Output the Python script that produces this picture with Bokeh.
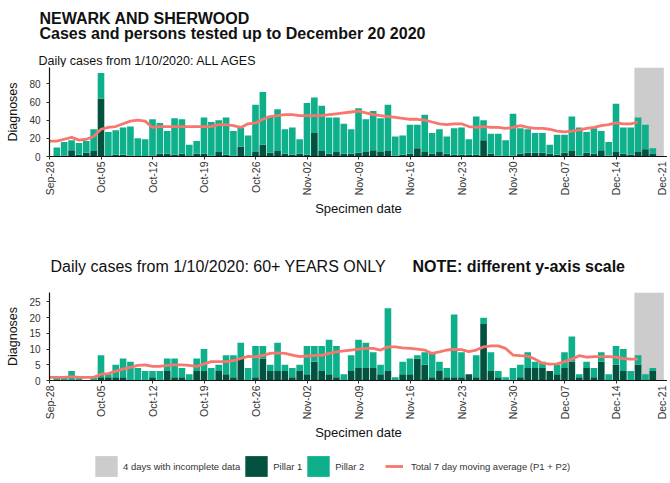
import math
import pandas as pd
from bokeh.plotting import figure
from bokeh.models import (Range1d, FixedTicker, DatetimeTickFormatter, BoxAnnotation,
                          Label, Legend, LegendItem, ColumnDataSource)
from bokeh.layouts import column
from bokeh.embed import file_html
from bokeh.resources import INLINE

# ---------------- data ----------------
bar_dates = pd.date_range("2020-09-29", "2020-12-20", freq="D")   # specimen dates of bars
avg_dates = pd.date_range("2020-09-28", "2020-12-17", freq="D")   # moving average dates
tick_dates = pd.date_range("2020-09-28", "2020-12-21", freq="7D")
incomplete_days = 4

# ALL AGES : total cases (P1 + P2) and Pillar 1
all_total = [10, 16,
             18, 15, 17, 30, 92, 27, 29, 32, 33, 20, 19, 41, 37, 28, 42, 41, 13, 17, 43, 38,
             40, 43, 28, 32, 23, 57, 71, 45, 52, 30, 32,
             19, 59, 65, 56, 43, 43, 36, 30, 53, 41, 50, 42, 57, 22, 23, 35, 35, 46, 26, 30,
             22, 31, 32, 19, 44, 40, 25, 25, 18, 47,
             31, 30, 26, 26, 13, 24, 24, 44, 32, 27, 31, 28, 16, 58, 32, 32, 43, 35, 9, 0]
all_p1 = [0, 1,
          7, 2, 4, 6, 64, 0, 2, 2, 1, 0, 0, 1, 3, 3, 2, 3, 0, 3, 3, 1,
          5, 2, 1, 11, 0, 5, 13, 4, 6, 3, 2,
          3, 2, 26, 6, 3, 5, 3, 3, 4, 5, 7, 5, 6, 1, 2, 3, 9, 5, 3, 5,
          3, 2, 2, 2, 2, 18, 3, 1, 0, 1,
          3, 4, 4, 4, 3, 2, 4, 6, 1, 4, 3, 7, 1, 5, 3, 2, 5, 8, 3, 0]
all_avg = [17, 17, 19,
           21, 18, 19, 22, 30, 32, 33, 36, 39, 40, 39, 32, 33, 33, 33, 33, 33, 33, 33, 33,
           35, 35, 34, 32, 36, 37, 41, 44, 45, 46, 46,
           45, 45, 45, 45, 46, 47, 48, 49, 50, 48, 46, 45, 44, 43, 42, 41, 41, 40, 38, 36,
           35, 36, 36, 33, 32, 33, 32, 32, 31, 32,
           34, 32, 31, 31, 30, 28, 27, 28, 29, 31, 32, 34, 35, 37, 36, 36, 38]

# 60+ YEARS : total cases and Pillar 1
old_total = [1, 1,
             3, 1, 0, 1, 8, 2, 5, 7, 6, 4, 3, 3, 3, 7, 7, 4, 2, 7, 10, 4,
             5, 8, 8, 12, 4, 11, 11, 5, 12, 5, 4,
             5, 11, 11, 11, 13, 11, 2, 8, 13, 12, 9, 5, 23, 1, 6, 7, 8, 9, 9, 6,
             4, 21, 9, 2, 8, 20, 9, 3, 1, 4,
             5, 9, 6, 6, 3, 5, 9, 14, 2, 6, 4, 9, 2, 11, 10, 3, 8, 2, 4, 0]
old_p1 = [0, 0,
          0, 0, 0, 0, 1, 1, 1, 1, 0, 0, 0, 1, 0, 3, 1, 1, 0, 3, 3, 0,
          3, 2, 1, 7, 0, 1, 7, 3, 3, 3, 1,
          3, 2, 6, 3, 2, 1, 0, 3, 4, 4, 4, 2, 3, 0, 2, 2, 7, 5, 1, 3,
          1, 1, 1, 2, 1, 18, 3, 1, 0, 0,
          1, 4, 4, 4, 3, 2, 4, 6, 1, 4, 1, 6, 0, 5, 3, 0, 5, 0, 3, 0]
old_avg = [1, 1, 1,
           1.2, 1, 1, 1, 2, 2.2, 3, 3.6, 4.2, 4.8, 5, 4.5, 4.5, 4.8, 5, 5, 4.8, 4.5, 5.3, 6,
           6, 6, 6.3, 7, 7.7, 7.5, 8, 8.6, 8.8, 8.6, 8.1,
           7.6, 7.8, 8, 8, 8.6, 9.1, 9.4, 9.7, 10, 10.2, 10.2, 9.7, 10.7, 10.7, 10.4, 10.2, 10,
           9.7, 8.6, 9.1, 9.7, 9.9, 9.8, 9.2, 9.7, 10.7, 11, 11, 10.2, 8.1,
           7.9, 7.8, 6.8, 5.5, 5.2, 5.3, 6, 6.8, 7.9, 7.4, 7.6, 7.6, 7.6, 7.4, 7, 6.8, 6.8]

all_yticks = [0, 20, 40, 60, 80]
old_yticks = [0, 5, 10, 15, 20, 25]

# ---------------- style ----------------
FONT = "Liberation Sans"
P1_COL = "#03523F"
P2_COL = "#0DB08B"
GREY = "#CCCCCC"
LINE_COL = "#F8766D"
DAY_MS = 86400000.0
W = 667
LEFT = 49


def ms(ts):
    return pd.Timestamp(ts).value / 1e6


def blank(height):
    f = figure(width=W, height=height, output_backend="svg", toolbar_location=None,
               title=None, x_range=Range1d(0, 1), y_range=Range1d(0, 1),
               min_border_left=0, min_border_right=0, min_border_top=0,
               min_border_bottom=0, x_axis_location=None, y_axis_location=None,
               frame_align=False)
    f.outline_line_color = None
    f.xgrid.visible = False
    f.ygrid.visible = False
    return f


def header(height, labels):
    h = blank(height)
    for (txt, x, y, size, style) in labels:
        h.add_layout(Label(x=x, y=y, x_units="screen", y_units="screen", text=txt,
                           text_font=FONT, text_font_size=size, text_font_style=style,
                           text_color="#111111", text_baseline="alphabetic",
                           text_align="left"))
    return h


def make_panel(total, p1, avg, ymax, yticks, height, bottom_border):
    p = figure(width=W, height=height, output_backend="svg", toolbar_location=None,
               title=None, x_range=Range1d(ms(tick_dates[0]), ms(tick_dates[-1])),
               y_range=Range1d(0, ymax), x_axis_type="datetime",
               min_border_left=LEFT, min_border_right=0, min_border_top=0,
               min_border_bottom=bottom_border)
    p.outline_line_color = None
    p.xgrid.visible = False
    p.ygrid.visible = False

    src = ColumnDataSource(dict(date=bar_dates, p1=p1, total=total))
    p.vbar(x="date", width=0.9 * DAY_MS, bottom=0, top="p1", source=src,
           fill_color=P1_COL, line_color=None)
    p.vbar(x="date", width=0.9 * DAY_MS, bottom="p1", top="total", source=src,
           fill_color=P2_COL, line_color=None)
    p.line(avg_dates, avg, line_color=LINE_COL, line_width=2.8)

    box = BoxAnnotation(left=ms(bar_dates[-incomplete_days]) - DAY_MS / 2,
                        right=ms(bar_dates[-1]) + DAY_MS / 2,
                        fill_color=GREY, fill_alpha=1, line_color=None, level="underlay")
    p.add_layout(box)

    xa = p.xaxis[0]
    xa.ticker = FixedTicker(ticks=[ms(t) for t in tick_dates])
    xa.formatter = DatetimeTickFormatter(days="%b-%d", months="%b-%d", years="%b-%d",
                                         hours="%b-%d")
    xa.major_label_orientation = math.pi / 2
    xa.axis_label = "Specimen date"
    xa.axis_label_text_font = FONT
    xa.axis_label_text_font_size = "13px"
    xa.axis_label_text_font_style = "normal"
    xa.axis_label_text_color = "#111111"
    xa.axis_label_standoff = 3
    xa.major_label_text_font = FONT
    xa.major_label_text_font_size = "10.5px"
    xa.major_label_text_color = "#333333"
    xa.major_label_standoff = 2
    xa.major_tick_out = 3
    xa.major_tick_in = 0
    xa.minor_tick_out = 0
    xa.minor_tick_in = 0
    xa.axis_line_color = "#111111"
    xa.axis_line_width = 1.2
    xa.major_tick_line_color = "#333333"

    ya = p.yaxis[0]
    ya.ticker = FixedTicker(ticks=yticks)
    ya.axis_label = "Diagnoses"
    ya.axis_label_text_font = FONT
    ya.axis_label_text_font_size = "12.5px"
    ya.axis_label_text_font_style = "normal"
    ya.axis_label_text_color = "#111111"
    ya.axis_label_standoff = 6
    ya.major_label_text_font = FONT
    ya.major_label_text_font_size = "10px"
    ya.major_label_text_color = "#333333"
    ya.major_label_standoff = 6
    ya.major_tick_out = 3
    ya.major_tick_in = 0
    ya.minor_tick_out = 0
    ya.minor_tick_in = 0
    ya.axis_line_color = "#111111"
    ya.axis_line_width = 1.2
    ya.major_tick_line_color = "#333333"
    return p


h1 = header(67, [
    ("NEWARK AND SHERWOOD", 39, 49.5, "16px", "bold"),
    ("Cases and persons tested up to December 20 2020", 39, 34, "16px", "bold"),
    ("Daily cases from 1/10/2020: ALL AGES", 38, 7, "12.5px", "normal"),
])
p1 = make_panel(all_total, all_p1, all_avg, 98, all_yticks, 161, 72)
h2 = header(64, [
    ("Daily cases from 1/10/2020: 60+ YEARS ONLY", 50, 26, "16px", "normal"),
    ("NOTE: different y-axis scale", 412, 26, "16px", "bold"),
])
p2 = make_panel(old_total, old_p1, old_avg, 28, old_yticks, 151, 62)

# ---------------- legend strip (proxies use the same data, outside the strip's range) ----
p3 = blank(38)
r_grey = p3.vbar(x=bar_dates[-incomplete_days:], top=[1] * incomplete_days, width=DAY_MS,
                 fill_color=GREY, line_color=None)
r_p1 = p3.vbar(x=bar_dates, top=all_p1, width=0.9 * DAY_MS, fill_color=P1_COL, line_color=None)
r_p2 = p3.vbar(x=bar_dates, top=all_total, width=0.9 * DAY_MS, fill_color=P2_COL, line_color=None)
r_ln = p3.line(x=avg_dates, y=all_avg, line_color=LINE_COL, line_width=2.8)

common = dict(orientation="horizontal", padding=0, margin=0, border_line_color=None,
              background_fill_alpha=0, label_text_font=FONT, label_text_font_size="9.5px",
              label_text_color="#333333", glyph_height=26)
leg1 = Legend(items=[LegendItem(label="4 days with incomplete data", renderers=[r_grey]),
                     LegendItem(label="Pillar 1", renderers=[r_p1]),
                     LegendItem(label="Pillar 2", renderers=[r_p2])],
              location=(92, 2), glyph_width=28, label_standoff=3, spacing=2, **common)
leg2 = Legend(items=[LegendItem(label="Total 7 day moving average (P1 + P2)", renderers=[r_ln])],
              location=(385, 2), glyph_width=18, label_standoff=8, spacing=0, **common)
p3.add_layout(leg1)
p3.add_layout(leg2)

layout = column(h1, p1, h2, p2, p3)
open("out.html", "w").write(file_html(layout, INLINE))
